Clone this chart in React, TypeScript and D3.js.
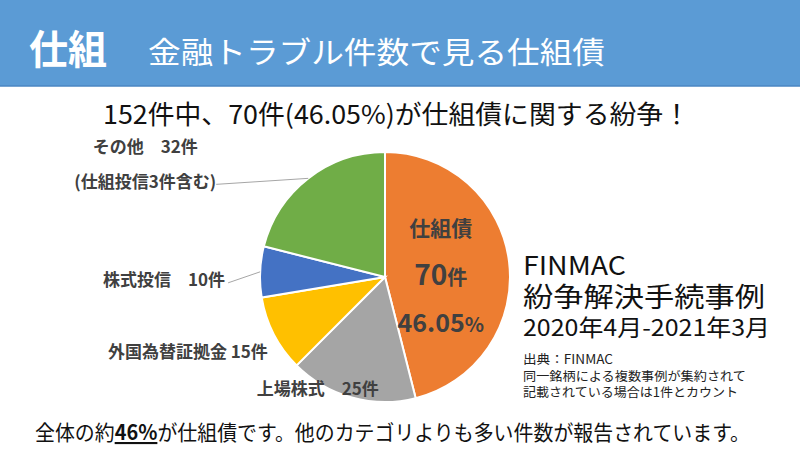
import React from "react";
import * as d3 from "d3";

const categories = ["仕組債", "上場株式", "外国為替証拠金", "株式投信", "その他"];
const counts = [70, 25, 15, 10, 32];
const colors = ["#ED7D31", "#A5A5A5", "#FFC000", "#4472C4", "#70AD47"];
const labelTexts = [
  [],
  ["上場株式　25件"],
  ["外国為替証拠金 15件"],
  ["株式投信　10件"],
  ["その他　32件", "(仕組投信3件含む)"],
];
const headerTag = "仕組";
const headerTitle = "金融トラブル件数で見る仕組債";
const subtitle = "152件中、70件(46.05%)が仕組債に関する紛争！";
const sourceLines = ["FINMAC", "紛争解決手続事例", "2020年4月-2021年3月"];
const noteLines = ["出典：FINMAC", "同一銘柄による複数事例が集約されて", "記載されている場合は1件とカウント"];

const FONT = "'Noto Sans CJK JP', 'Noto Sans', sans-serif";
const TEXT = "#404040";

// layout: offsets of label anchor relative to the arc point on the rim
const labelLayout = [
  null,
  { dx: -34, dy: -3, anchor: "middle", leader: null },
  { dx: -6, dy: 24, anchor: "end", leader: null },
  { dx: -35, dy: 14, anchor: "end", leader: { dx: -32, dy: 11 } },
  { dx: -163, dy: -25, anchor: "middle", leader: { dx: -92, dy: 6 } },
];
const noteWidths = [90, 223, 215];

export default function App() {
  const cx = 385, cy = 277, r = 125;
  const total = d3.sum(counts);
  const pie = d3.pie<number>().sort(null).value((d) => d)(counts);
  const arc = d3.arc<d3.PieArcDatum<number>>().innerRadius(0).outerRadius(r);
  const rim = d3.arc<d3.PieArcDatum<number>>().innerRadius(r).outerRadius(r);
  const main = pie[0];
  const [mx, my] = d3.arc<d3.PieArcDatum<number>>().innerRadius(0).outerRadius(r * 0.9).centroid(main);
  const pct = d3.format(".2%")(counts[0] / total);

  return (
    <svg width={800} height={450} style={{ position: "absolute", left: 0, top: 0, background: "#fff" }} fontFamily={FONT}>
      <rect x={0} y={0} width={800} height={86} fill="#5B9BD5" />
      <line x1={0} x2={800} y1={86} y2={86} stroke="#4A86C2" strokeWidth={1.5} />
      <text x={29} y={64} fill="#fff" fontSize={40} fontWeight="bold" textLength={78} lengthAdjust="spacingAndGlyphs">{headerTag}</text>
      <text x={148} y={63} fill="#fff" fontSize={30} textLength={457} lengthAdjust="spacingAndGlyphs">{headerTitle}</text>

      <text x={103} y={124} fill="#111" fontSize={26} textLength={587} lengthAdjust="spacingAndGlyphs">{subtitle}</text>

      <g transform={`translate(${cx},${cy})`}>
        {pie.map((d, i) => (
          <path key={i} d={arc(d) || ""} fill={colors[i]} stroke="#fff" strokeWidth={2} />
        ))}
        {pie.map((d, i) => {
          const lay = labelLayout[i];
          if (!lay) return null;
          const [px, py] = rim.centroid(d);
          const lx = px + lay.dx, ly = py + lay.dy;
          return (
            <g key={"l" + i}>
              {lay.leader && (
                <line x1={px} y1={py} x2={px + lay.leader.dx} y2={py + lay.leader.dy} stroke="#A6A6A6" strokeWidth={1} />
              )}
              {labelTexts[i].map((t, j) => (
                <text key={j} x={lx} y={ly + j * 35} textAnchor={lay.anchor} fontSize={17} fontWeight="bold" fill={TEXT}>{t}</text>
              ))}
            </g>
          );
        })}
        <g transform={`translate(${mx},${my})`} fill={TEXT} fontWeight="bold" textAnchor="middle">
          <text x={0} y={-34} fontSize={21}>{categories[0]}</text>
          <text x={0} y={15}><tspan fontSize={28}>{counts[0]}</tspan><tspan fontSize={20}>件</tspan></text>
          <text x={0} y={62}><tspan fontSize={25}>{pct.replace("%", "")}</tspan><tspan fontSize={20}>%</tspan></text>
        </g>
      </g>

      <text x={523} y={275} fontSize={26} fill="#111" textLength={103} lengthAdjust="spacingAndGlyphs">{sourceLines[0]}</text>
      <text x={523} y={307} fontSize={27} fill="#111" textLength={242} lengthAdjust="spacingAndGlyphs">{sourceLines[1]}</text>
      <text x={523} y={336} fontSize={23} fill="#111" textLength={247} lengthAdjust="spacingAndGlyphs">{sourceLines[2]}</text>
      {noteLines.map((t, i) => (
        <text key={i} x={523} y={364 + i * 16.5} fontSize={12.5} fill="#222" textLength={noteWidths[i]} lengthAdjust="spacingAndGlyphs">{t}</text>
      ))}

      <text x={35} y={440} fontSize={21} fill="#111" textLength={715} lengthAdjust="spacingAndGlyphs">
        全体の約<tspan fontWeight="bold" textDecoration="underline">46%</tspan>が仕組債です。他のカテゴリよりも多い件数が報告されています。
      </text>
    </svg>
  );
}
